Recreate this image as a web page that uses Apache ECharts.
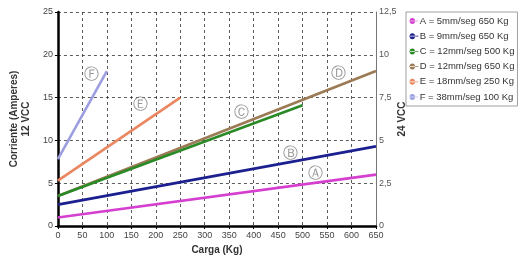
<!DOCTYPE html>
<html><head><meta charset="utf-8">
<script src="https://cdn.jsdelivr.net/npm/echarts@6/dist/echarts.min.js"></script>
<style>html,body{margin:0;padding:0;background:#fff}#c{width:518px;height:264px}</style>
</head><body><div id="c"></div>
<script>
const seriesNames = ["A = 5mm/seg 650 Kg","B = 9mm/seg 650 Kg","C = 12mm/seg 500 Kg","D = 12mm/seg 650 Kg","E = 18mm/seg 250 Kg","F = 38mm/seg 100 Kg"];
const seriesColors = ["#d53fd0","#1c1f8f","#2a8a26","#9b7a55","#ea8660","#9c9ee0"];
const loadA = [0, 650], currA = [1.0, 6.0];
const loadB = [0, 650], currB = [2.5, 9.3];
const loadC = [0, 500], currC = [3.5, 14.1];
const loadD = [0, 650], currD = [3.5, 18.1];
const loadE = [0, 250], currE = [5.3, 15.0];
const loadF = [0, 100], currF = [7.8, 18.1];
const markLetters = ["Ⓐ","Ⓑ","Ⓒ","Ⓓ","Ⓔ","Ⓕ"];
const markX = [526, 476, 376, 573, 169, 69];
const markY = [6.1, 8.4, 13.2, 17.8, 14.1, 17.6];

const loads = [loadA,loadB,loadC,loadD,loadE,loadF];
const currs = [currA,currB,currC,currD,currE,currF];
const chart = echarts.init(document.getElementById('c'), null, {renderer:'canvas'});
const icon = 'path://M0,4H14V5H0Z M1,4.5A4,4.5 0 1,0 9,4.5A4,4.5 0 1,0 1,4.5Z';
const series = seriesNames.map((n,i)=>({
  name:n, type:'line', symbol:'none', yAxisIndex:0,
  data: loads[i].map((x,j)=>[x,currs[i][j]]),
  lineStyle:{color:seriesColors[i], width:2.6},
  itemStyle:{color:seriesColors[i]}, z:3+ (i===2?1:0)
}));
series.push({
  type:'scatter', yAxisIndex:0, symbolSize:0, silent:true,
  data: markX.map((x,i)=>[x,markY[i]]),
  label:{show:true, position:'inside', formatter:p=>markLetters[p.dataIndex], color:'#7a7a7a', fontSize:15, fontFamily:'DejaVu Sans'}
});
chart.setOption({
  animation:false,
  textStyle:{fontFamily:'Liberation Sans, Arial, sans-serif'},
  grid:{left:56, right:142, top:12, bottom:38},
  legend:{
    orient:'vertical', left:406, top:12, width:110,
    data: seriesNames.map((n,i)=>({name:n, icon:icon, itemStyle:{color:seriesColors[i]}})),
    itemWidth:10, itemHeight:6, itemGap:5.2,
    borderColor:'#a0a0a0', borderWidth:1, padding:[4,3,4,3],
    textStyle:{fontSize:9.5, color:'#333', padding:[0,0,0,-4]}
  },
  xAxis:{
    type:'value', min:0, max:650, interval:50,
    name:'Carga (Kg)', nameLocation:'middle', nameGap:17,
    nameTextStyle:{fontWeight:'bold', fontSize:10, color:'#333'},
    axisLine:{show:true, lineStyle:{color:'#000', width:2.5}},
    axisTick:{show:true, length:3, lineStyle:{color:'#000'}},
    axisLabel:{fontSize:9, color:'#444', margin:5},
    splitLine:{show:true, lineStyle:{color:'#333', type:[3,3], width:0.8}}
  },
  yAxis:[{
    type:'value', min:0, max:25, interval:5, position:'left',
    name:'Corriente (Amperes)\n12 VCC', nameLocation:'middle', nameGap:22,
    nameTextStyle:{fontWeight:'bold', fontSize:10, color:'#333', lineHeight:12},
    axisLine:{show:true, lineStyle:{color:'#000', width:2.5}},
    axisTick:{show:true, length:3, lineStyle:{color:'#000'}},
    axisLabel:{fontSize:9, color:'#444', margin:5},
    splitLine:{show:true, lineStyle:{color:'#333', type:[3,3], width:0.8}}
  },{
    type:'value', min:0, max:12.5, interval:2.5, position:'right',
    name:'24 VCC', nameLocation:'middle', nameGap:21, nameRotate:90, nameMoveOverlap:false,
    nameTextStyle:{fontWeight:'bold', fontSize:10, color:'#333'},
    axisLine:{show:true, lineStyle:{color:'#777', width:1}},
    axisTick:{show:false},
    axisLabel:{fontSize:9, color:'#555', margin:3, formatter:v=>String(v).replace('.',',')},
    splitLine:{show:false}
  }],
  series: series
});
</script></body></html>
